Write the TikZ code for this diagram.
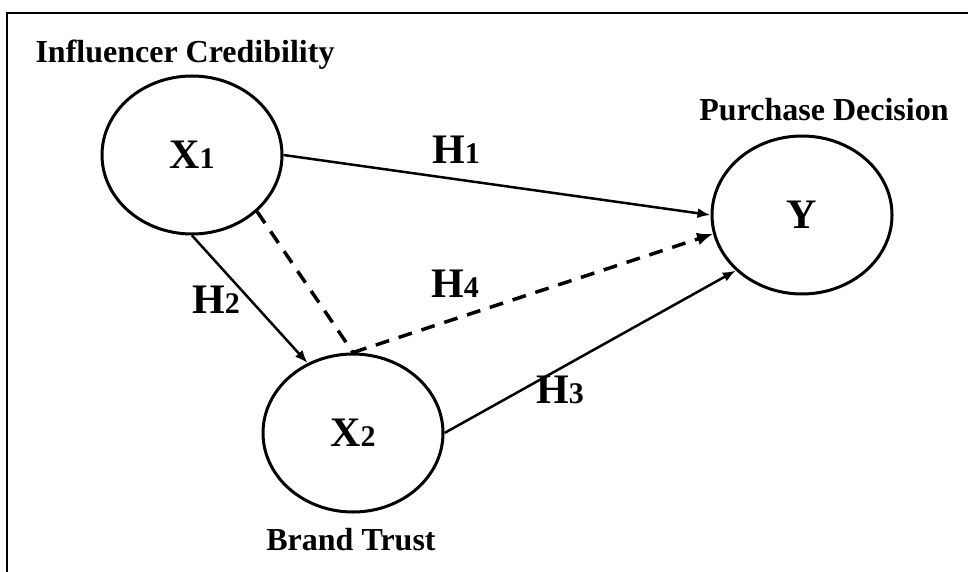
\documentclass[tikz,border=0pt]{standalone}
\usepackage{fontspec}
\setmainfont{Liberation Serif}
\usetikzlibrary{shapes.geometric}
\usetikzlibrary{arrows.meta}
\newcommand{\smalldig}[1]{{\fontsize{30}{30}\selectfont #1}}
\tikzset{
  latent/.style={ellipse,draw,line width=3pt,minimum width=180pt,minimum height=158pt,
    inner sep=0pt,font=\fontsize{42}{42}\selectfont\bfseries},
  varname/.style={anchor=base,inner sep=0pt,font=\fontsize{32}{32}\selectfont\bfseries},
  hyp/.style={anchor=base,inner sep=0pt,font=\fontsize{42}{42}\selectfont\bfseries},
  effect/.style={line width=2.5pt,-{Latex[length=13pt,width=10pt]}},
  mediate/.style={line width=3.5pt,dash pattern=on 14pt off 10pt},
}

\begin{document}
\begin{tikzpicture}[x=1pt,y=-1pt]
\useasboundingbox (0,0) rectangle (968,572);
\clip (0,0) rectangle (968,572);
\draw[line width=2.5pt] (7,13) rectangle (990,600); % frame
\node[latent] (x1) at (192,155) {X\smalldig{1}};
\node[latent] (y) at (802,215) {Y};
\node[latent] (x2) at (353,433) {X\smalldig{2}};
\node[varname] (credlbl) at (185,63) {Influencer Credibility};
\node[varname] (declbl) at (824,121) {Purchase Decision};
\node[varname] (trustlbl) at (351,550) {Brand Trust};
\draw[effect] (x1.east) -- (y.west); % direct paths
\draw[effect] (x1.south) -- (x2.123);
\draw[effect] (x2.east) -- (y.220);
\draw[mediate] (x1.319) -- (x2.north); % mediated path
\draw[mediate,-{Latex[length=16pt,width=13pt]}] (x2.north) -- (y.192);
\node[hyp] (h1) at (456,164) {H\smalldig{1}};
\node[hyp] (h2) at (216,313) {H\smalldig{2}};
\node[hyp] (h3) at (560,403) {H\smalldig{3}};
\node[hyp] (h4) at (455,297) {H\smalldig{4}};
\end{tikzpicture}
\end{document}
